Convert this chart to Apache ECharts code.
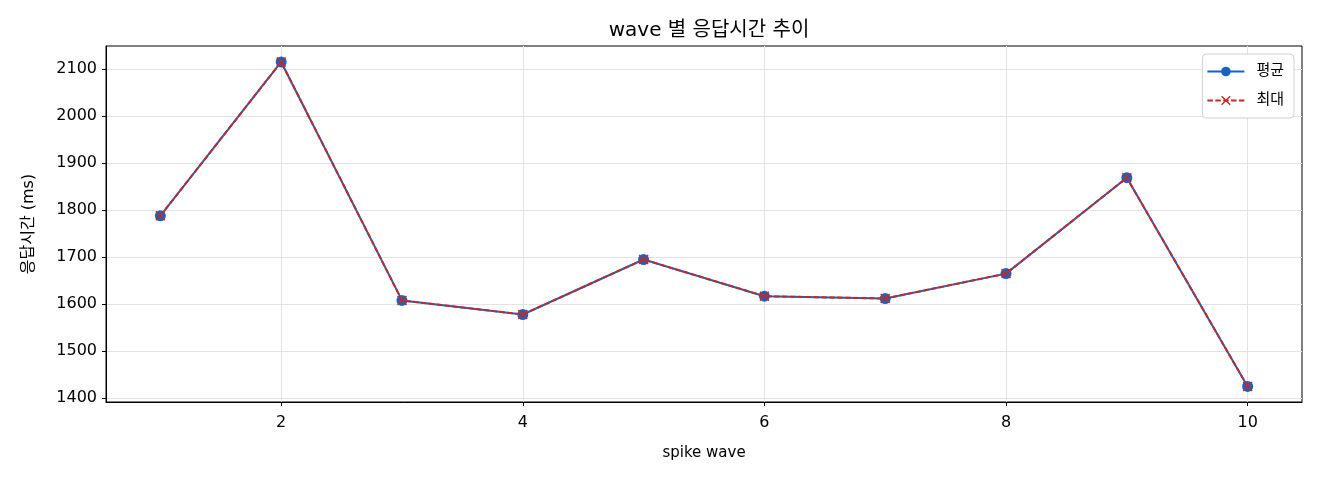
<!DOCTYPE html>
<html>
<head>
<meta charset="utf-8">
<script src="https://cdn.jsdelivr.net/npm/echarts@6/dist/echarts.min.js"></script>
<style>
  html, body { margin: 0; padding: 0; background: #fff; }
  #main { width: 1320px; height: 480px; }
</style>
</head>
<body>
<div id="main"></div>
<script>
var waves = [1, 2, 3, 4, 5, 6, 7, 8, 9, 10];
var avgValues = [1788, 2115, 1608, 1578, 1695, 1617, 1612, 1665, 1869, 1425];
var maxValues = [1788, 2115, 1608, 1578, 1695, 1617, 1612, 1665, 1869, 1425];
var xTicks = [2, 4, 6, 8, 10];
var yTicks = [1400, 1500, 1600, 1700, 1800, 1900, 2000, 2100];

var font = 'DejaVu Sans, "Noto Sans CJK KR", sans-serif';
var blue = '#1565c0';
var red = '#c62828';
var crossPath = 'path://M0,1 L1,0 L5,4 L9,0 L10,1 L6,5 L10,9 L9,10 L5,6 L1,10 L0,9 L4,5 Z';

function pairs(vals) {
  var out = [];
  for (var i = 0; i < waves.length; i++) {
    out.push([waves[i], vals[i]]);
  }
  return out;
}

var chart = echarts.init(document.getElementById('main'));

var option = {
  backgroundColor: '#fff',
  animation: false,
  title: {
    text: 'wave 별 응답시간 추이',
    left: 704,
    textAlign: 'center',
    top: 16,
    textStyle: { fontFamily: font, fontSize: 20, fontWeight: 'normal', color: '#000' }
  },
  legend: {
    orient: 'vertical',
    right: 26,
    top: 54,
    padding: [10, 10, 10, 4],
    itemGap: 14,
    itemWidth: 37,
    itemHeight: 12,
    backgroundColor: '#fff',
    borderColor: '#d0d0d0',
    borderWidth: 1,
    borderRadius: 4,
    textStyle: { fontFamily: font, fontSize: 15, color: '#000', padding: [0, 0, 0, 7] },
    data: ['평균', '최대']
  },
  grid: {
    left: 106,
    right: 18,
    top: 46,
    bottom: 78,
    show: true,
    borderColor: '#000',
    borderWidth: 1,
    backgroundColor: 'transparent'
  },
  xAxis: {
    type: 'value',
    min: 0.55,
    max: 10.45,
    name: 'spike wave',
    nameLocation: 'middle',
    nameGap: 44,
    nameTextStyle: { fontFamily: font, fontSize: 15, color: '#000' },
    axisLine: { show: true, lineStyle: { color: '#000', width: 1 } },
    axisTick: { show: true, length: 4, customValues: xTicks, lineStyle: { color: '#000' } },
    axisLabel: { customValues: xTicks, fontFamily: font, fontSize: 16, color: '#000', margin: 13 },
    splitLine: { show: true, lineStyle: { color: '#e3e3e3', width: 1 } }
  },
  yAxis: {
    type: 'value',
    min: 1392,
    max: 2149,
    name: '응답시간 (ms)',
    nameLocation: 'middle',
    nameGap: 69,
    nameTextStyle: { fontFamily: font, fontSize: 16, color: '#000' },
    axisLine: { show: true, lineStyle: { color: '#000', width: 1 } },
    axisTick: { show: true, length: 4, customValues: yTicks, lineStyle: { color: '#000' } },
    axisLabel: {
      customValues: yTicks,
      fontFamily: font,
      fontSize: 16,
      color: '#000',
      margin: 9,
      formatter: function (v) { return String(v); }
    },
    splitLine: { show: true, lineStyle: { color: '#e3e3e3', width: 1 } }
  },
  series: [
    {
      name: '평균',
      type: 'line',
      data: pairs(avgValues),
      symbol: 'circle',
      symbolSize: 11,
      itemStyle: { color: blue },
      lineStyle: { color: blue, width: 2 },
      z: 2
    },
    {
      name: '최대',
      type: 'line',
      data: pairs(maxValues),
      symbol: crossPath,
      symbolSize: 10,
      itemStyle: { color: red },
      lineStyle: { color: red, width: 2, type: [5.5, 2.4] },
      z: 3
    }
  ]
};

chart.setOption(option);
</script>
</body>
</html>
